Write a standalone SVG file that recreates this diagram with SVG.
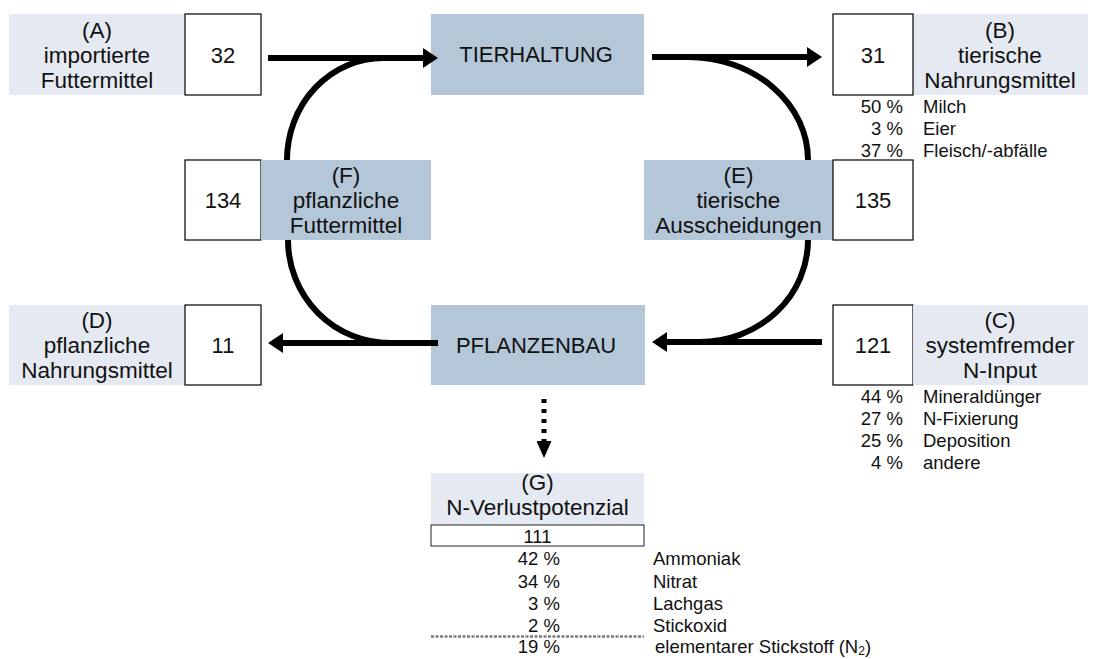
<svg xmlns="http://www.w3.org/2000/svg" width="1096" height="659" viewBox="0 0 1096 659">
<defs>
<style>
text{font-family:"Liberation Sans",Arial,sans-serif;fill:#111}
.lbl{font-size:22.5px;text-anchor:middle}
.num{font-size:22px;text-anchor:middle}
.main{font-size:22px;text-anchor:middle}
.pct{font-size:18.5px;text-anchor:end}
.itm{font-size:18.5px}
.light{fill:#e5eaf2}
.dark{fill:#b4c7d9}
.nbox{fill:#fff;stroke:#000;stroke-width:1.2}
.flow{fill:none;stroke:#000;stroke-width:6}
</style>
<marker id="ah" viewBox="0 0 15 20" refX="2" refY="10" markerWidth="15" markerHeight="20" orient="auto" markerUnits="userSpaceOnUse"><path d="M0,0 L15,10 L0,20 z" fill="#000"/></marker>
<marker id="ahs" viewBox="0 0 17 15" refX="1" refY="7.5" markerWidth="17" markerHeight="15" orient="auto" markerUnits="userSpaceOnUse"><path d="M0,0 L17,7.5 L0,15 z" fill="#000"/></marker>
</defs>
<rect width="1096" height="659" fill="#fff"/>

<g id="nodeA">
<rect class="light" x="9" y="14" width="176" height="81"/>
<text class="lbl" x="97" y="37.5">(A)</text>
<text class="lbl" x="97" y="63">importierte</text>
<text class="lbl" x="97" y="88">Futtermittel</text>
<rect class="nbox" x="185" y="14" width="76" height="81"/>
<text class="num" x="223" y="63">32</text>
</g>

<g id="tierhaltung">
<rect class="dark" x="431" y="14" width="213" height="81"/>
<text class="main" x="536" y="62">TIERHALTUNG</text>
</g>

<g id="nodeB">
<rect class="light" x="913" y="14" width="175" height="81"/>
<text class="lbl" x="1000" y="37.5">(B)</text>
<text class="lbl" x="1000" y="63">tierische</text>
<text class="lbl" x="1000" y="88">Nahrungsmittel</text>
<rect class="nbox" x="833" y="14" width="80" height="81"/>
<text class="num" x="873" y="63">31</text>
<text class="pct" x="903" y="113">50 %</text><text class="itm" x="923" y="113">Milch</text>
<text class="pct" x="903" y="135">3 %</text><text class="itm" x="923" y="135">Eier</text>
<text class="pct" x="903" y="157">37 %</text><text class="itm" x="923" y="157">Fleisch/-abfälle</text>
</g>

<g id="nodeF">
<rect class="nbox" x="185" y="160" width="76" height="80"/>
<text class="num" x="223" y="208">134</text>
<rect class="dark" x="261" y="160" width="170" height="80"/>
<text class="lbl" x="346" y="183">(F)</text>
<text class="lbl" x="346" y="208">pflanzliche</text>
<text class="lbl" x="346" y="233">Futtermittel</text>
</g>

<g id="nodeE">
<rect class="dark" x="644" y="160" width="189" height="80"/>
<text class="lbl" x="738.5" y="183">(E)</text>
<text class="lbl" x="738.5" y="208">tierische</text>
<text class="lbl" x="738.5" y="233">Ausscheidungen</text>
<rect class="nbox" x="833" y="160" width="80" height="80"/>
<text class="num" x="873" y="208">135</text>
</g>

<g id="nodeD">
<rect class="light" x="9" y="305" width="176" height="80"/>
<text class="lbl" x="97" y="328">(D)</text>
<text class="lbl" x="97" y="353">pflanzliche</text>
<text class="lbl" x="97" y="378">Nahrungsmittel</text>
<rect class="nbox" x="185" y="305" width="76" height="80"/>
<text class="num" x="223" y="353">11</text>
</g>

<g id="pflanzenbau">
<rect class="dark" x="431" y="305" width="214" height="80"/>
<text class="main" x="536" y="353">PFLANZENBAU</text>
</g>

<g id="nodeC">
<rect class="nbox" x="833" y="305" width="80" height="80"/>
<text class="num" x="873" y="353">121</text>
<rect class="light" x="913" y="305" width="175" height="80"/>
<text class="lbl" x="1000" y="328">(C)</text>
<text class="lbl" x="1000" y="353">systemfremder</text>
<text class="lbl" x="1000" y="378">N-Input</text>
<text class="pct" x="903" y="403">44 %</text><text class="itm" x="923" y="403">Mineraldünger</text>
<text class="pct" x="903" y="425">27 %</text><text class="itm" x="923" y="425">N-Fixierung</text>
<text class="pct" x="903" y="447">25 %</text><text class="itm" x="923" y="447">Deposition</text>
<text class="pct" x="903" y="469">4 %</text><text class="itm" x="923" y="469">andere</text>
</g>

<g id="nodeG">
<rect class="light" x="431" y="473" width="213" height="52"/>
<text class="lbl" x="537.5" y="490">(G)</text>
<text class="lbl" x="537.5" y="515">N-Verlustpotenzial</text>
<rect x="431" y="525" width="213" height="21" fill="#fff" stroke="#222" stroke-width="1"/>
<text class="pct" x="537.5" y="543" style="text-anchor:middle">111</text>
<text class="pct" x="560" y="565">42 %</text><text class="itm" x="653" y="565">Ammoniak</text>
<text class="pct" x="560" y="588">34 %</text><text class="itm" x="653" y="588">Nitrat</text>
<text class="pct" x="560" y="610">3 %</text><text class="itm" x="653" y="610">Lachgas</text>
<text class="pct" x="560" y="632">2 %</text><text class="itm" x="653" y="632">Stickoxid</text>
<line x1="431" y1="636.5" x2="644" y2="636.5" stroke="#7a7a7a" stroke-width="2.5" stroke-dasharray="3 1.5"/>
<text class="pct" x="560" y="653">19 %</text><text class="itm" x="655" y="653">elementarer Stickstoff (N<tspan font-size="12" dy="2">2</tspan><tspan dy="-2">)</tspan></text>
</g>

<g id="connectors">
<path class="flow" d="M287,160 A96,102 0 0 1 383,58 L400,58"/>
<path class="flow" d="M680,57 L688,57 A120,103 0 0 1 808,160"/>
<path class="flow" d="M288,240 A102,103 0 0 0 390,343 L410,343"/>
<path class="flow" d="M808,240 A108,102 0 0 1 700,342 L690,342"/>
<path class="flow" d="M268,58 H425" marker-end="url(#ah)"/>
<path class="flow" d="M652,57 H809" marker-end="url(#ah)"/>
<path class="flow" d="M438,343 H281" marker-end="url(#ah)"/>
<path class="flow" d="M822,342 H665" marker-end="url(#ah)"/>
<path d="M544,399 V442" fill="none" stroke="#000" stroke-width="5" stroke-dasharray="4 6" marker-end="url(#ahs)"/>
</g>
</svg>
